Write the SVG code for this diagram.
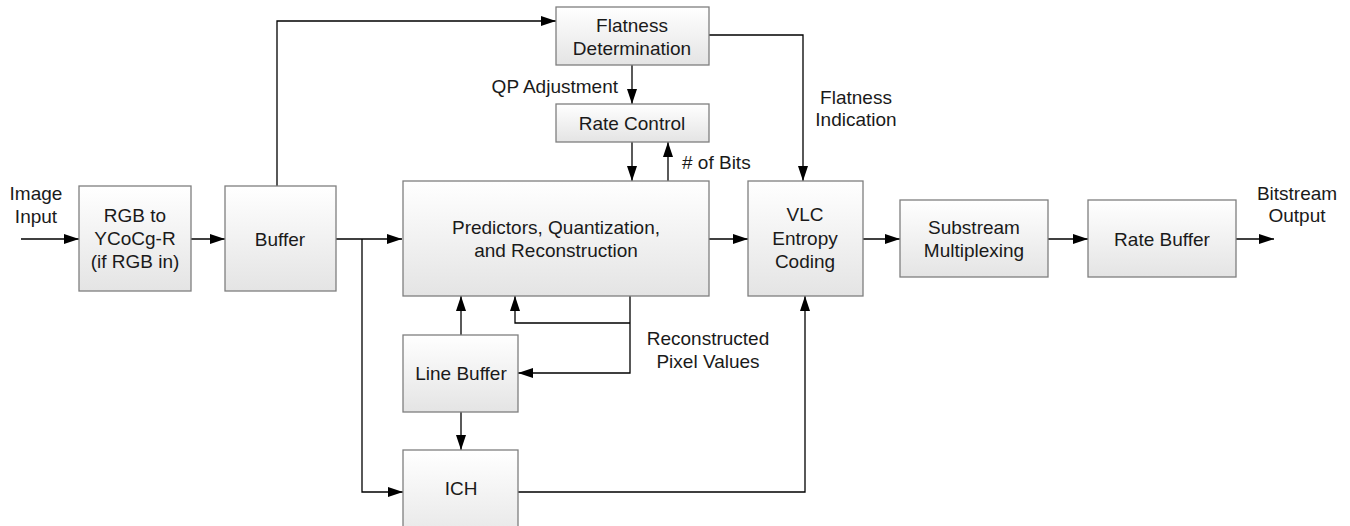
<svg xmlns="http://www.w3.org/2000/svg" width="1350" height="526" viewBox="0 0 1350 526">
<defs>
<linearGradient id="g" x1="0" y1="0" x2="0" y2="1">
<stop offset="0" stop-color="#ffffff"/>
<stop offset="1" stop-color="#e4e4e4"/>
</linearGradient>
<marker id="arr" viewBox="0 0 15 10" refX="15" refY="5" markerWidth="15" markerHeight="10" orient="auto" markerUnits="userSpaceOnUse">
<path d="M0,0 L15,5 L0,10 z" fill="#000"/>
</marker>
</defs>
<style>
.box{fill:url(#g);stroke:#7f7f7f;stroke-width:1.3}
text{font-family:"Liberation Sans",Arial,sans-serif;font-size:19px;fill:#1a1a1a;text-anchor:middle}
.c{fill:none;stroke:#000;stroke-width:1.3}
.a{marker-end:url(#arr)}
</style>
<rect width="1350" height="526" fill="#fff"/>
<g id="connectors">
<path class="c a" d="M21,239 H79"/>
<path class="c a" d="M191,239 H225"/>
<path class="c a" d="M336,239 H402"/>
<path class="c a" d="M362,239 V492 H403"/>
<path class="c a" d="M277,186 V21 H556"/>
<path class="c a" d="M632,65 V104"/>
<path class="c a" d="M632,142 V181"/>
<path class="c a" d="M668,181 V142"/>
<path class="c a" d="M709,35 H803 V181"/>
<path class="c a" d="M709,239 H748"/>
<path class="c a" d="M863,239 H900"/>
<path class="c a" d="M1048,239 H1088"/>
<path class="c a" d="M1236,239 H1274"/>
<path class="c a" d="M630,296 V373 H518"/>
<path class="c a" d="M630,323 H515 V296"/>
<path class="c a" d="M461,335 V296"/>
<path class="c a" d="M461,412 V450"/>
<path class="c a" d="M518,492 H805 V296"/>
</g>
<g id="labels">
<text x="36" y="200">Image</text>
<text x="36" y="223">Input</text>
<text x="618" y="93" style="text-anchor:end">QP Adjustment</text>
<text x="682" y="169" style="text-anchor:start"># of Bits</text>
<text x="856" y="104">Flatness</text>
<text x="856" y="126">Indication</text>
<text x="708" y="345">Reconstructed</text>
<text x="708" y="368">Pixel Values</text>
<text x="1297" y="200">Bitstream</text>
<text x="1297" y="222">Output</text>
</g>
<g id="rgb">
<rect class="box" x="79" y="186" width="112" height="105"/>
<text x="135" y="222">RGB to</text>
<text x="135" y="245">YCoCg-R</text>
<text x="135" y="268">(if RGB in)</text>
</g>
<g id="buffer">
<rect class="box" x="225" y="186" width="111" height="105"/>
<text x="280" y="246">Buffer</text>
</g>
<g id="flatness">
<rect class="box" x="556" y="7" width="153" height="58"/>
<text x="632" y="32">Flatness</text>
<text x="632" y="55">Determination</text>
</g>
<g id="ratecontrol">
<rect class="box" x="556" y="104" width="153" height="38"/>
<text x="632" y="130">Rate Control</text>
</g>
<g id="predictors">
<rect class="box" x="403" y="181" width="306" height="115"/>
<text x="556" y="234">Predictors, Quantization,</text>
<text x="556" y="257">and Reconstruction</text>
</g>
<g id="linebuffer">
<rect class="box" x="403" y="335" width="115" height="77"/>
<text x="461" y="380">Line Buffer</text>
</g>
<g id="ich">
<rect class="box" x="403" y="450" width="115" height="100"/>
<text x="461" y="495">ICH</text>
</g>
<g id="vlc">
<rect class="box" x="748" y="181" width="115" height="115"/>
<text x="805" y="221">VLC</text>
<text x="805" y="245">Entropy</text>
<text x="805" y="268">Coding</text>
</g>
<g id="substream">
<rect class="box" x="900" y="200" width="148" height="77"/>
<text x="974" y="234">Substream</text>
<text x="974" y="257">Multiplexing</text>
</g>
<g id="ratebuffer">
<rect class="box" x="1088" y="200" width="148" height="77"/>
<text x="1162" y="246">Rate Buffer</text>
</g>
</svg>
